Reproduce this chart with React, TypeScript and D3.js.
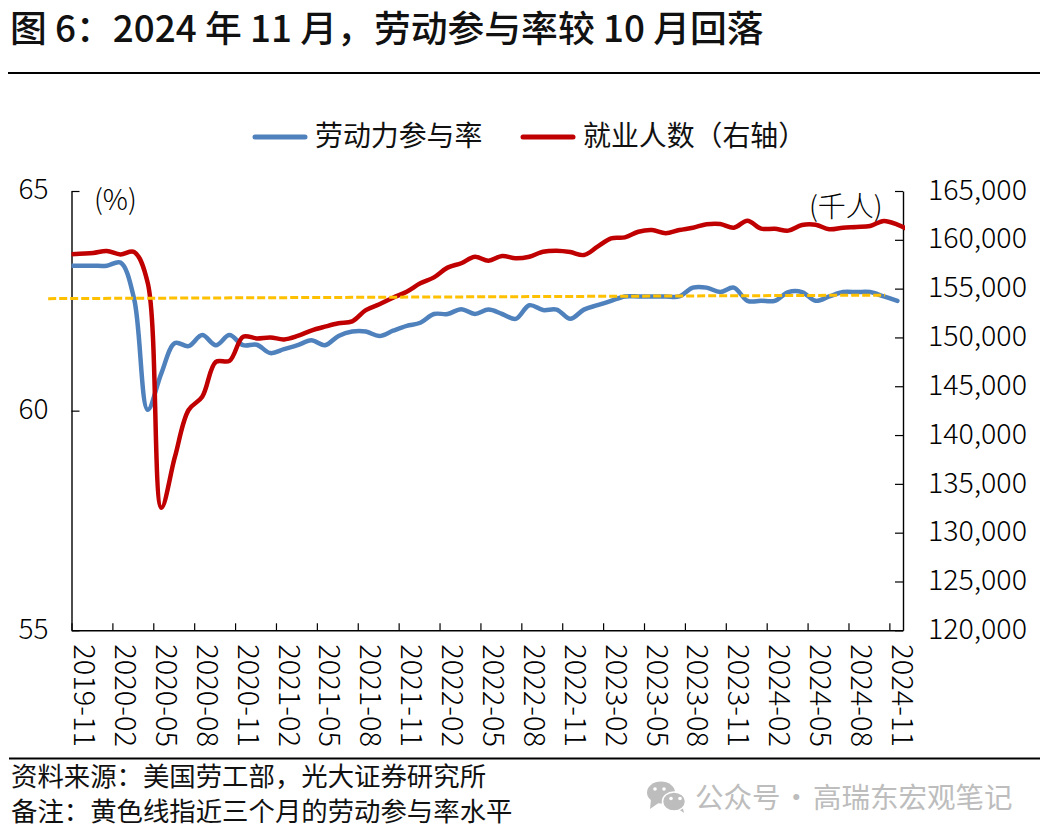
import { useEffect, useRef } from "react"
import * as d3 from "d3"

const tickLabels = ["2019-11","2020-02","2020-05","2020-08","2020-11","2021-02","2021-05","2021-08","2021-11","2022-02","2022-05","2022-08","2022-11","2023-02","2023-05","2023-08","2023-11","2024-02","2024-05","2024-08","2024-11"]
const monthCount = 61

// both series start one month ahead of the first label, the plot clips that point
const participation = [63.3,63.3,63.3,63.3,63.37,62.55,60.02,60.85,61.54,61.47,61.72,61.49,61.72,61.49,61.5,61.31,61.4,61.49,61.6,61.49,61.7,61.8,61.8,61.7,61.82,61.93,62.0,62.2,62.2,62.31,62.2,62.3,62.2,62.09,62.4,62.29,62.3,62.09,62.3,62.4,62.5,62.6,62.6,62.6,62.6,62.6,62.8,62.8,62.7,62.8,62.5,62.5,62.5,62.7,62.7,62.5,62.6,62.7,62.7,62.7,62.6,62.5]
const employment = [158475,158580,158650,158850,158500,158750,155600,132560,137780,142570,143930,147500,147600,150080,149900,150000,149800,150150,150700,151100,151450,151650,152800,153400,154070,154690,155540,156150,157150,157600,158270,157860,158340,158100,158270,158780,158890,158750,158440,159300,160150,160250,160830,161000,160670,161000,161240,161590,161620,161240,161960,161140,161140,160940,161520,161550,161080,161240,161310,161410,161930,161550,160900]
const recentAvgAt = [-2.3, 59.1]
const recentAvg = [62.55, 62.63]

const leftTicks = [55, 60, 65]
const rightTicks = [120000,125000,130000,135000,140000,145000,150000,155000,160000,165000]

const BLUE = "#4F81BD", RED = "#C00000", YELLOW = "#FFC000", GREY = "#BDBDBD"
const FONT = "'Noto Sans CJK SC', 'Noto Sans', sans-serif"

export default function App() {
  const ref = useRef<SVGSVGElement>(null)
  useEffect(() => {
    if (!ref.current) return
    const svg = d3.select(ref.current)
    svg.selectAll("*").remove()
    svg.style("font-family", FONT)

    const L = 71.5, R = 903, T = 191, B = 630.3
    const x = d3.scaleLinear().domain([0, monthCount]).range([L, R])
    const yL = d3.scaleLinear().domain([55, 65]).range([B, T])
    const yR = d3.scaleLinear().domain([120000, 165000]).range([B, T])
    const px = (i: number) => x(i + 0.59)

    svg.append("defs").append("clipPath").attr("id", "plot")
      .append("rect").attr("x", L).attr("y", 0).attr("width", 905 - L).attr("height", 840)

    // title and rules
    svg.append("text").attr("x", 10).attr("y", 42).style("font-size", "36.8px").style("font-weight", 500).style("fill", "#111")
      .text("图 6：2024 年 11 月，劳动参与率较 10 月回落")
    svg.append("line").attr("x1", 8).attr("x2", 1040).attr("y1", 73).attr("y2", 73).style("stroke", "#000").style("stroke-width", 2)
    svg.append("line").attr("x1", 9).attr("x2", 1040).attr("y1", 758.5).attr("y2", 758.5).style("stroke", "#000").style("stroke-width", 2)

    // legend
    const legend = [
      { label: "劳动力参与率", color: BLUE, x0: 255 },
      { label: "就业人数（右轴）", color: RED, x0: 523 },
    ]
    legend.forEach(d => {
      svg.append("line").attr("x1", d.x0).attr("x2", d.x0 + 50).attr("y1", 137).attr("y2", 137)
        .style("stroke", d.color).style("stroke-width", 5).style("stroke-linecap", "round")
      svg.append("text").attr("x", d.x0 + 60).attr("y", 146).style("font-size", "27.9px").style("fill", "#111").text(d.label)
    })

    // axes
    const styleAxis = (g: any) => {
      g.select(".domain").style("stroke", "#000").style("stroke-width", 1.4)
      g.selectAll(".tick line").style("stroke", "#000").style("stroke-width", 1.2)
      g.selectAll("text").style("fill", "#000").style("font-family", FONT).style("font-weight", 300)
    }
    svg.append("g").attr("transform", `translate(${L},-1)`)
      .call(d3.axisLeft(yL).tickValues(leftTicks).tickFormat(d3.format("d") as any).tickSizeInner(-8).tickSizeOuter(0).tickPadding(23))
      .call(styleAxis).call(g => g.selectAll("text").style("font-size", "28px"))
      .call(g => g.selectAll(".domain,.tick line").attr("transform", "translate(0,1)"))
    svg.append("g").attr("transform", `translate(${R},-1)`)
      .call(d3.axisRight(yR).tickValues(rightTicks).tickFormat(d3.format(",") as any).tickSizeInner(-8).tickSizeOuter(0).tickPadding(25))
      .call(styleAxis).call(g => g.selectAll("text").style("font-size", "28.6px"))
      .call(g => g.selectAll(".domain,.tick line").attr("transform", "translate(0,1)"))
    svg.append("g").attr("transform", `translate(0,${B})`)
      .call(d3.axisBottom(x).tickValues(tickLabels.map((_, i) => i * 3)).tickFormat((_, i) => tickLabels[i]).tickSizeInner(-7).tickSizeOuter(0))
      .call(styleAxis)
      .call(g => g.selectAll("text").attr("transform", "translate(12.5,14) rotate(90)").attr("x", 0).attr("y", 0).attr("dy", "0.36em")
        .attr("text-anchor", "start").style("font-size", "29px"))

    svg.append("text").attr("x", 94).attr("y", 210).style("font-size", "28px").style("font-weight", 300).style("fill", "#000").text("(%)")
    svg.append("text").attr("x", 809).attr("y", 217).style("font-size", "28px").style("font-weight", 300).style("fill", "#000").text("(千人)")

    // series
    const plot = svg.append("g").attr("clip-path", "url(#plot)")
    plot.append("path").datum(participation).attr("fill", "none").attr("stroke", BLUE).attr("stroke-width", 4.5)
      .attr("stroke-linejoin", "round").attr("stroke-linecap", "round")
      .attr("d", d3.line<number>().x((_, i) => px(i - 1)).y(d => yL(d)).curve(d3.curveCatmullRom.alpha(0.5)))
    svg.append("path").datum(recentAvg).attr("fill", "none").attr("stroke", YELLOW).attr("stroke-width", 3).attr("stroke-dasharray", "8,3")
      .attr("d", d3.line<number>().x((_, i) => px(recentAvgAt[i])).y(d => yL(d)))
    plot.append("path").datum(employment).attr("fill", "none").attr("stroke", RED).attr("stroke-width", 4.5)
      .attr("stroke-linejoin", "round")
      .attr("d", d3.line<number>().x((_, i) => px(i - 1)).y(d => yR(d)).curve(d3.curveCatmullRom.alpha(0.5)))

    // footer
    svg.append("text").attr("x", 11).attr("y", 786).style("font-size", "26.4px").style("fill", "#111").text("资料来源：美国劳工部，光大证券研究所")
    svg.append("text").attr("x", 11).attr("y", 821).style("font-size", "26.4px").style("fill", "#111").text("备注：黄色线指近三个月的劳动参与率水平")

    // watermark
    const wm = svg.append("g").style("fill", GREY)
    wm.append("path").attr("d", "M651 799 L650 809 L660 802 Z")
    wm.append("ellipse").attr("cx", 661).attr("cy", 792.5).attr("rx", 14).attr("ry", 11)
    wm.append("path").attr("d", "M677 808 L684 813 L682 804 Z")
    wm.append("ellipse").attr("cx", 674).attr("cy", 801.5).attr("rx", 11.5).attr("ry", 9.5).style("stroke", "#fff").style("stroke-width", 1.5)
    const eyes = [[655, 789], [664, 789], [671, 798.5], [680, 798.5]]
    eyes.forEach(e => wm.append("circle").attr("cx", e[0]).attr("cy", e[1]).attr("r", 1.8).style("fill", "#fff"))
    wm.append("text").attr("x", 695).attr("y", 808).style("font-size", "28.5px").text("公众号")
    wm.append("text").attr("x", 782).attr("y", 808).style("font-size", "28.5px").text("·")
    wm.append("text").attr("x", 813).attr("y", 808).style("font-size", "28.5px").text("高瑞东宏观笔记")
  }, [])
  return <svg ref={ref} width={1047} height={840} style={{ position: "absolute", left: 0, top: 0, display: "block" }} />
}
